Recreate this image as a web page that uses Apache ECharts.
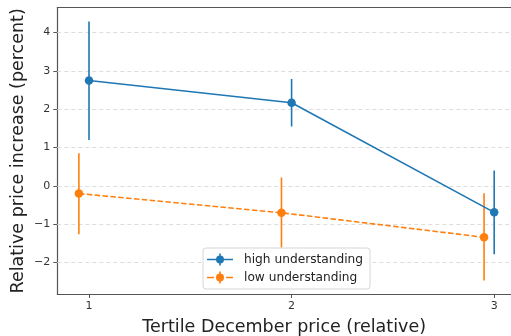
<!DOCTYPE html>
<html>
<head>
<meta charset="utf-8">
<script src="https://cdn.jsdelivr.net/npm/echarts@6/dist/echarts.min.js"></script>
<style>
  html, body { margin: 0; padding: 0; background: #fff; }
  #chart { width: 511px; height: 336px; }
</style>
</head>
<body>
<div id="chart"></div>
<script>
// Tertiles of the December price (relative)
const tertiles = [1, 2, 3];
const yTicks = [-2, -1, 0, 1, 2, 3, 4];
const xTicks = [1, 2, 3];

// High-understanding group: mean and error-bar bounds
const highMean = [2.75, 2.17, -0.69];
const highLow  = [1.20, 1.55, -1.78];
const highHigh = [4.29, 2.79, 0.40];

// Low-understanding group: mean and error-bar bounds
const lowMean = [-0.20, -0.70, -1.34];
const lowLow  = [-1.26, -1.61, -2.47];
const lowHigh = [0.85, 0.22, -0.19];

const seriesNames = ['high understanding', 'low understanding'];

const BLUE = '#1f77b4';
const ORANGE = '#ff7f0e';
const FONT = 'DejaVu Sans';
const SPINE = '#555555';
const lowShift = -0.05; // horizontal dodge for the second group

const minus = v => String(v).replace('-', '\u2212');

function pts(mean, shift) {
  return tertiles.map((t, i) => [t + shift, mean[i]]);
}
function bars(lo, hi, shift) {
  return tertiles.map((t, i) => [t + shift, lo[i], hi[i]]);
}

function errorSeries(name, data, color) {
  return {
    name: name,
    type: 'custom',
    data: data,
    encode: { x: 0, y: [1, 2] },
    z: 3,
    renderItem: function (params, api) {
      const x = api.value(0);
      const a = api.coord([x, api.value(1)]);
      const b = api.coord([x, api.value(2)]);
      return {
        type: 'line',
        shape: { x1: a[0], y1: a[1], x2: b[0], y2: b[1] },
        style: { stroke: color, lineWidth: 1.6 }
      };
    }
  };
}

// legend glyphs: line + marker + vertical error bar
const circle = 'M17,6 A4,4 0 1 1 9,6 A4,4 0 1 1 17,6 Z';
const vbar = 'M12.2,0 h1.6 v12 h-1.6 Z';
const iconHigh = 'path://M0,5.2 h26 v1.6 h-26 Z ' + vbar + ' ' + circle;
const iconLow = 'path://M0,5.2 h7 v1.6 h-7 Z M19,5.2 h7 v1.6 h-7 Z ' + vbar + ' ' + circle;

const chart = echarts.init(document.getElementById('chart'), null, { renderer: 'canvas' });

const spineLine = { show: true, onZero: false, lineStyle: { color: SPINE, width: 1.2 } };

chart.setOption({
  animation: false,
  backgroundColor: '#ffffff',
  textStyle: { fontFamily: FONT },
  grid: { left: 57.3, right: 0, top: 7.7, bottom: 42, show: false, containLabel: false, outerBoundsMode: 'none' },
  legend: {
    orient: 'vertical',
    left: 203,
    top: 248,
    padding: [5, 7, 5, 4],
    itemGap: 5,
    itemWidth: 26,
    itemHeight: 12,
    borderColor: '#d6d6d6',
    borderWidth: 1,
    borderRadius: 3,
    backgroundColor: 'rgba(255,255,255,0.85)',
    textStyle: { fontFamily: FONT, fontSize: 12.2, color: '#222', padding: [0, 0, 0, 6], lineHeight: 13 },
    data: [
      { name: seriesNames[0], icon: iconHigh, itemStyle: { color: BLUE } },
      { name: seriesNames[1], icon: iconLow, itemStyle: { color: ORANGE } }
    ]
  },
  xAxis: [
    {
      type: 'value',
      position: 'bottom',
      min: 0.8435,
      max: 3.083,
      name: 'Tertile December price (relative)',
      nameLocation: 'middle',
      nameGap: 24,
      nameMoveOverlap: false,
      nameTextStyle: { fontFamily: FONT, fontSize: 17.5, color: '#222', verticalAlign: 'top' },
      axisLine: spineLine,
      axisTick: { show: true, length: 4, lineStyle: { color: SPINE, width: 1 }, customValues: xTicks },
      axisLabel: { fontFamily: FONT, fontSize: 11, color: '#333', margin: 7, customValues: xTicks },
      splitLine: { show: false }
    },
    {
      // top spine only
      type: 'value',
      position: 'top',
      min: 0.8435,
      max: 3.083,
      axisLine: spineLine,
      axisTick: { show: false },
      axisLabel: { show: false },
      splitLine: { show: false }
    }
  ],
  yAxis: {
    type: 'value',
    min: -2.82,
    max: 4.65,
    name: 'Relative price increase (percent)',
    nameLocation: 'middle',
    nameGap: 30,
    nameMoveOverlap: false,
    nameTextStyle: { fontFamily: FONT, fontSize: 17.5, color: '#222' },
    axisLine: spineLine,
    axisTick: { show: true, length: 4, lineStyle: { color: SPINE, width: 1 }, customValues: yTicks },
    axisLabel: { fontFamily: FONT, fontSize: 11, color: '#333', margin: 7, customValues: yTicks, formatter: minus },
    splitLine: { show: false }
  },
  series: [
    {
      name: 'grid',
      type: 'line',
      data: [],
      silent: true,
      z: 1,
      markLine: {
        silent: true,
        z: 1,
        symbol: 'none',
        label: { show: false },
        lineStyle: { color: '#dddddd', type: [4, 3], width: 1 },
        data: yTicks.map(v => ({ yAxis: v }))
      }
    },
    errorSeries(seriesNames[0], bars(highLow, highHigh, 0), BLUE),
    {
      name: seriesNames[0],
      type: 'line',
      data: pts(highMean, 0),
      z: 4,
      symbol: 'circle',
      symbolSize: 8.5,
      lineStyle: { color: BLUE, width: 1.6 },
      itemStyle: { color: BLUE }
    },
    errorSeries(seriesNames[1], bars(lowLow, lowHigh, lowShift), ORANGE),
    {
      name: seriesNames[1],
      type: 'line',
      data: pts(lowMean, lowShift),
      z: 4,
      symbol: 'circle',
      symbolSize: 8.5,
      lineStyle: { color: ORANGE, width: 1.6, type: [5.5, 2.4] },
      itemStyle: { color: ORANGE }
    }
  ]
});
</script>
</body>
</html>
